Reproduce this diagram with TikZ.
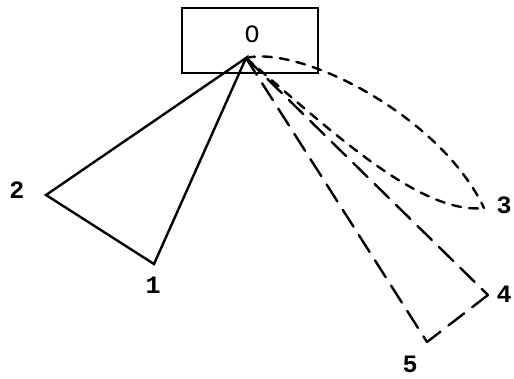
\documentclass[tikz,border=0pt]{standalone}
\usepackage{fontspec}
\setmainfont{Liberation Mono}
\begin{document}
\begin{tikzpicture}[x=1pt,y=-1pt,
  edge/.style={line width=2.4pt,line cap=round,line join=miter},
  longdash/.style={edge,dash pattern=on 20pt off 10pt},
  shortdash/.style={edge,dash pattern=on 9pt off 8pt},
  lbl/.style={font=\fontsize{25}{25}\selectfont\bfseries,inner sep=0pt}]
\useasboundingbox (0,0) rectangle (514,378);
% the box and its origin point
\node[draw,line width=2.4pt,minimum width=136pt,minimum height=65pt,inner sep=0pt] (box) at (250,40.5) {};
\node[lbl,font=\fontsize{25}{25}\selectfont] (lo) at (252,34) {O};
\coordinate (o) at (246,58);
% corner points
\coordinate (p1) at (154,264);
\coordinate (p2) at (46,195);
\coordinate (p3) at (484,208);
\coordinate (p4) at (488,295);
\coordinate (p5) at (427,342);
% solid triangle
\draw[edge] (o) -- (p2) -- (p1) -- cycle;
% long-dashed triangle
\draw[longdash] (o) -- (p4);
\draw[longdash] (o) -- (p5);
\draw[longdash] (p4) -- (p5);
% short-dashed loop
\draw[shortdash] (o) .. controls (300,45) and (440,115) .. (p3);
\draw[shortdash] (o) .. controls (330,130) and (420,215) .. (p3);
% labels
\node[lbl] (l1) at (153,285) {1};
\node[lbl] (l2) at (17,190) {2};
\node[lbl] (l3) at (504,205) {3};
\node[lbl] (l4) at (504,294) {4};
\node[lbl] (l5) at (410,364) {5};
\end{tikzpicture}
\end{document}
